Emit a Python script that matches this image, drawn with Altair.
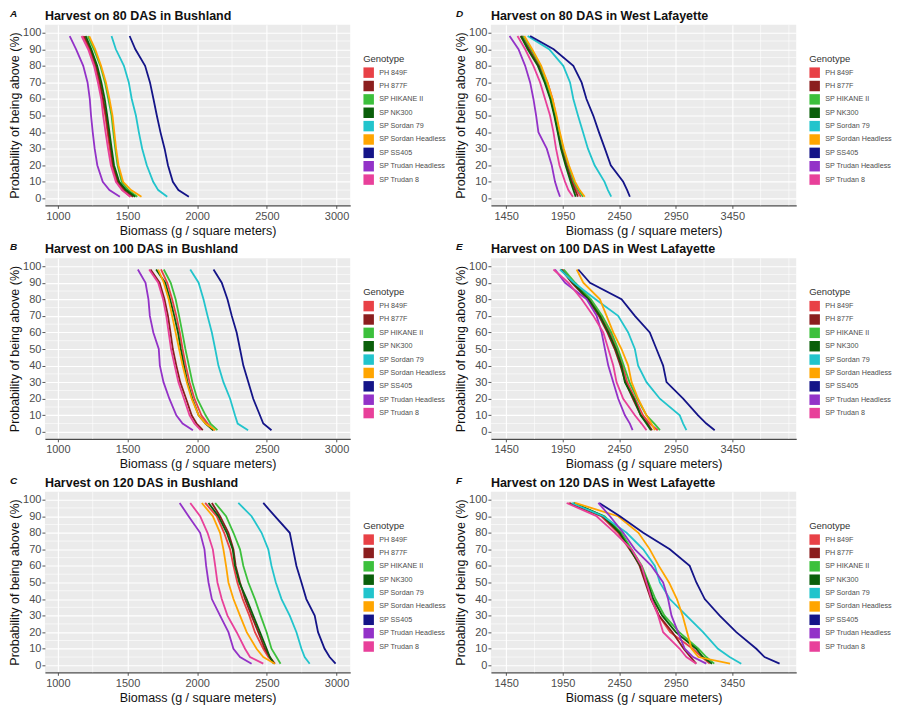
import altair as alt
import pandas as pd

FONT = "Liberation Sans"

GENOTYPES = ["PH 849F", "PH 877F", "SP HIKANE II", "SP NK300", "SP Sordan 79",
             "SP Sordan Headless", "SP SS405", "SP Trudan Headless", "SP Trudan 8"]
COLORS = ["#E84146", "#8B1E1E", "#3CC03C", "#0A5F0A", "#22C4CC",
          "#FFA500", "#141488", "#9332C8", "#E8409A"]

# probability of being above (%) at which biomass values were read
PROB_LEVELS = [98, 90, 80, 70, 60, 50, 40, 30, 20, 10, 5, 1]

BUSHLAND_80 = {
    "PH 849F":            [1180, 1225, 1265, 1295, 1318, 1340, 1356, 1372, 1390, 1422, 1465, 1520],
    "PH 877F":            [1190, 1235, 1275, 1303, 1325, 1346, 1362, 1380, 1397, 1432, 1480, 1540],
    "SP HIKANE II":       [1215, 1258, 1305, 1338, 1362, 1385, 1398, 1412, 1428, 1458, 1505, 1570],
    "SP NK300":           [1200, 1240, 1282, 1312, 1336, 1354, 1370, 1386, 1403, 1440, 1490, 1555],
    "SP Sordan 79":       [1385, 1416, 1474, 1509, 1530, 1560, 1581, 1605, 1638, 1684, 1720, 1785],
    "SP Sordan Headless": [1225, 1268, 1310, 1345, 1370, 1392, 1405, 1418, 1435, 1468, 1525, 1600],
    "SP SS405":           [1515, 1556, 1626, 1661, 1686, 1710, 1736, 1766, 1790, 1825, 1865, 1940],
    "SP Trudan Headless": [1085, 1131, 1182, 1213, 1229, 1238, 1250, 1264, 1283, 1322, 1370, 1445],
    "SP Trudan 8":        [1170, 1217, 1259, 1287, 1311, 1325, 1342, 1360, 1380, 1416, 1460, 1521],
}

BUSHLAND_100 = {
    "PH 849F":            [1740, 1785, 1820, 1850, 1875, 1895, 1918, 1945, 1980, 2030, 2075, 2120],
    "PH 877F":            [1665, 1730, 1765, 1790, 1808, 1825, 1850, 1878, 1920, 1960, 1995, 2040],
    "SP HIKANE II":       [1760, 1810, 1845, 1870, 1893, 1915, 1940, 1965, 2000, 2060, 2095, 2145],
    "SP NK300":           [1705, 1770, 1805, 1835, 1862, 1882, 1905, 1930, 1965, 2010, 2060, 2115],
    "SP Sordan 79":       [1950, 2010, 2045, 2074, 2105, 2129, 2152, 2188, 2236, 2271, 2290, 2365],
    "SP Sordan Headless": [1720, 1760, 1795, 1820, 1845, 1870, 1895, 1925, 1960, 2010, 2060, 2130],
    "SP SS405":           [2117, 2176, 2217, 2248, 2283, 2307, 2331, 2367, 2402, 2450, 2474, 2533],
    "SP Trudan Headless": [1574, 1629, 1650, 1660, 1685, 1724, 1732, 1758, 1800, 1850, 1895, 1969],
    "SP Trudan 8":        [1655, 1720, 1755, 1778, 1795, 1812, 1838, 1865, 1905, 1945, 1980, 2025],
}

BUSHLAND_120 = {
    "PH 849F":            [2057, 2140, 2193, 2236, 2260, 2288, 2326, 2374, 2414, 2474, 2510, 2557],
    "PH 877F":            [2105, 2164, 2224, 2260, 2276, 2307, 2343, 2390, 2438, 2486, 2521, 2557],
    "SP HIKANE II":       [2129, 2207, 2260, 2307, 2331, 2367, 2414, 2455, 2498, 2533, 2569, 2598],
    "SP NK300":           [2081, 2152, 2212, 2255, 2271, 2302, 2355, 2402, 2450, 2498, 2521, 2550],
    "SP Sordan 79":       [2295, 2390, 2462, 2510, 2533, 2564, 2605, 2664, 2712, 2748, 2771, 2807],
    "SP Sordan Headless": [2033, 2112, 2164, 2188, 2207, 2224, 2260, 2307, 2355, 2426, 2474, 2557],
    "SP SS405":           [2474, 2557, 2664, 2688, 2712, 2748, 2783, 2843, 2867, 2914, 2950, 2993],
    "SP Trudan Headless": [1874, 1938, 2021, 2052, 2064, 2081, 2105, 2164, 2224, 2260, 2307, 2390],
    "SP Trudan 8":        [1950, 2021, 2074, 2112, 2129, 2145, 2176, 2217, 2283, 2343, 2379, 2474],
}

LAFAYETTE_80 = {
    "PH 849F":            [1575, 1660, 1750, 1815, 1860, 1890, 1918, 1945, 1990, 2040, 2075, 2110],
    "PH 877F":            [1590, 1650, 1740, 1800, 1845, 1880, 1910, 1940, 1985, 2030, 2060, 2085],
    "SP HIKANE II":       [1600, 1670, 1755, 1805, 1850, 1888, 1920, 1955, 2000, 2050, 2090, 2130],
    "SP NK300":           [1580, 1640, 1730, 1790, 1840, 1875, 1905, 1935, 1975, 2020, 2045, 2065],
    "SP Sordan 79":       [1640, 1830, 1955, 2015, 2044, 2085, 2129, 2173, 2232, 2320, 2350, 2379],
    "SP Sordan Headless": [1610, 1680, 1760, 1815, 1860, 1895, 1925, 1960, 2005, 2060, 2100, 2145],
    "SP SS405":           [1662, 1870, 2044, 2117, 2160, 2220, 2270, 2323, 2375, 2485, 2520, 2544],
    "SP Trudan Headless": [1480, 1559, 1618, 1662, 1691, 1715, 1735, 1809, 1853, 1882, 1905, 1926],
    "SP Trudan 8":        [1550, 1618, 1691, 1750, 1794, 1838, 1868, 1891, 1921, 1971, 2000, 2040],
}

LAFAYETTE_100 = {
    "PH 849F":            [1950, 2050, 2190, 2290, 2370, 2430, 2480, 2520, 2590, 2660, 2720, 2790],
    "PH 877F":            [1940, 2030, 2170, 2270, 2345, 2410, 2460, 2505, 2570, 2640, 2700, 2740],
    "SP HIKANE II":       [1960, 2060, 2200, 2300, 2380, 2440, 2490, 2540, 2610, 2690, 2760, 2810],
    "SP NK300":           [1935, 2040, 2180, 2280, 2355, 2420, 2470, 2500, 2580, 2640, 2690, 2730],
    "SP Sordan 79":       [1926, 2050, 2240, 2440, 2529, 2588, 2617, 2691, 2809, 2985, 3015, 3044],
    "SP Sordan Headless": [2074, 2132, 2279, 2338, 2397, 2470, 2529, 2559, 2617, 2691, 2735, 2765],
    "SP SS405":           [2088, 2191, 2470, 2588, 2720, 2779, 2838, 2868, 3015, 3147, 3220, 3294],
    "SP Trudan Headless": [1882, 1971, 2162, 2250, 2294, 2323, 2353, 2397, 2441, 2500, 2544, 2568],
    "SP Trudan 8":        [1868, 2000, 2118, 2221, 2309, 2353, 2397, 2426, 2485, 2588, 2647, 2691],
}

LAFAYETTE_120 = {
    "PH 849F":            [2000, 2290, 2440, 2540, 2640, 2690, 2740, 2800, 2900, 3100, 3180, 3250],
    "PH 877F":            [2010, 2300, 2450, 2550, 2630, 2680, 2730, 2800, 2920, 3020, 3080, 3130],
    "SP HIKANE II":       [2040, 2320, 2470, 2560, 2650, 2710, 2770, 2850, 2980, 3150, 3220, 3290],
    "SP NK300":           [2050, 2310, 2455, 2545, 2640, 2700, 2750, 2830, 2950, 3130, 3190, 3270],
    "SP Sordan 79":       [2029, 2309, 2515, 2662, 2765, 2809, 2897, 3044, 3191, 3323, 3426, 3529],
    "SP Sordan Headless": [2059, 2440, 2620, 2720, 2800, 2890, 2960, 3010, 3050, 3090, 3150, 3430],
    "SP SS405":           [2273, 2456, 2662, 2897, 3073, 3132, 3206, 3338, 3485, 3662, 3735, 3868],
    "SP Trudan Headless": [2265, 2368, 2485, 2588, 2735, 2838, 2882, 2912, 2970, 3029, 3103, 3220],
    "SP Trudan 8":        [1985, 2250, 2412, 2559, 2647, 2691, 2735, 2794, 2838, 2985, 3044, 3132],
}

PANELS = [
    ("A", "Harvest on 80 DAS in Bushland", BUSHLAND_80, "left"),
    ("D", "Harvest on 80 DAS in West Lafayette", LAFAYETTE_80, "right"),
    ("B", "Harvest on 100 DAS in Bushland", BUSHLAND_100, "left"),
    ("E", "Harvest on 100 DAS in West Lafayette", LAFAYETTE_100, "right"),
    ("C", "Harvest on 120 DAS in Bushland", BUSHLAND_120, "left"),
    ("F", "Harvest on 120 DAS in West Lafayette", LAFAYETTE_120, "right"),
]

X_AXES = {
    "left": dict(domain=[907, 3098], major=[1000, 1500, 2000, 2500, 3000],
                 minor=[1250, 1750, 2250, 2750]),
    "right": dict(domain=[1315, 4015], major=[1450, 1950, 2450, 2950, 3450],
                  minor=[1700, 2200, 2700, 3200, 3700, 3950]),
}
Y_MAJOR = [0, 10, 20, 30, 40, 50, 60, 70, 80, 90, 100]
Y_MINOR = [5, 15, 25, 35, 45, 55, 65, 75, 85, 95]
Y_DOMAIN = [-4.2, 104.8]


def make_panel(letter, title, values, side):
    ax = X_AXES[side]
    rows = []
    for g in GENOTYPES:
        for p, b in zip(PROB_LEVELS, values[g]):
            rows.append({"genotype": g, "prob": p, "biomass": b})
    df = pd.DataFrame(rows)

    xscale = alt.Scale(domain=ax["domain"], nice=False, zero=False)
    yscale = alt.Scale(domain=Y_DOMAIN, nice=False, zero=False)
    cscale = alt.Scale(domain=GENOTYPES, range=COLORS)

    xaxis = alt.Axis(values=ax["major"], format="d",
                     grid=True, gridColor="white", gridWidth=1.1,
                     title="Biomass (g / square meters)",
                     domain=True, domainColor="#4a4a4a", domainWidth=1.3,
                     tickColor="#555555", tickSize=3, labelPadding=2,
                     titlePadding=3)
    yaxis = alt.Axis(values=Y_MAJOR, grid=True,
                     gridColor="white", gridWidth=1.1,
                     title="Probability of being above (%)",
                     domain=False, tickColor="#555555", tickSize=3,
                     labelPadding=1, titlePadding=1)

    # invisible layer (no rows pass) that carries the legend with filled keys
    legend_layer = alt.Chart(df).transform_filter("false").mark_point(
        filled=True, shape="square", opacity=1
    ).encode(
        x=alt.X("biomass:Q", scale=xscale, axis=xaxis),
        y=alt.Y("prob:Q", scale=yscale, axis=yaxis),
        color=alt.Color("genotype:N", scale=cscale,
                        legend=alt.Legend(title="Genotype", orient="none",
                                          legendX=319, legendY=29)),
    )

    # minor grid lines (ggplot style), drawn through the shared scales
    vminor = alt.Chart(pd.DataFrame({"biomass": ax["minor"]})).mark_rule(
        color="white", strokeWidth=0.6
    ).encode(x=alt.X("biomass:Q", scale=xscale, axis=xaxis))
    hminor = alt.Chart(pd.DataFrame({"prob": Y_MINOR})).mark_rule(
        color="white", strokeWidth=0.6
    ).encode(y=alt.Y("prob:Q", scale=yscale, axis=yaxis))

    lines = alt.Chart(df).mark_line(strokeWidth=1.8).encode(
        x=alt.X("biomass:Q", scale=xscale, axis=xaxis),
        y=alt.Y("prob:Q", scale=yscale, axis=yaxis),
        color=alt.Color("genotype:N", scale=cscale, legend=None),
        order=alt.Order("prob:Q", sort="descending"),
    )

    head = pd.DataFrame({"t": [title]})
    title_mark = alt.Chart(head).mark_text(
        align="left", baseline="middle", fontWeight="bold", fontSize=12.5,
        font=FONT, color="#111111"
    ).encode(text="t:N", x=alt.value(0), y=alt.value(-9))

    tag = alt.Chart(pd.DataFrame({"t": [letter]})).mark_text(
        align="left", baseline="middle", fontStyle="italic", fontWeight="bold",
        fontSize=10, font=FONT, color="#111111"
    ).encode(text="t:N", x=alt.value(-35), y=alt.value(-11))

    return alt.layer(legend_layer, vminor, hminor, lines, title_mark, tag).properties(
        width=306, height=181
    )


panels = [make_panel(*p) for p in PANELS]

chart = alt.concat(
    *panels, columns=2, spacing={"row": 53, "column": 141}, bounds="flush"
).resolve_scale(color="independent").resolve_legend(color="independent").properties(
    padding=0
).configure_view(
    fill="#EBEBEB", stroke=None
).configure_axis(
    labelFont=FONT, titleFont=FONT, labelFontSize=11, titleFontSize=12.5,
    labelColor="#4D4D4D", titleColor="#111111", titleFontWeight="normal"
).configure_legend(
    titleFont=FONT, labelFont=FONT, titleFontSize=9.5, titleFontWeight="normal",
    titleColor="#333333", labelFontSize=7.2, labelColor="#4D4D4D",
    symbolType="square", symbolSize=110, symbolStrokeWidth=0,
    rowPadding=2.4, titlePadding=4, labelOffset=5, padding=0
)

chart.save("out.html", embed_options={"renderer": "svg", "actions": False})
